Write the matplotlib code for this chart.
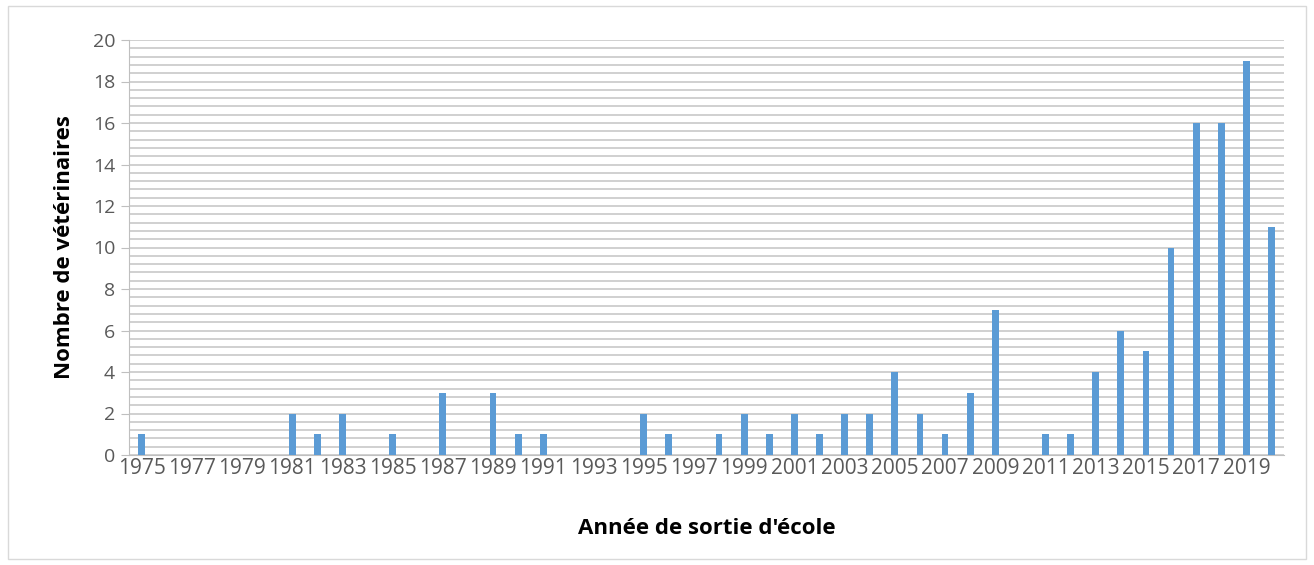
import matplotlib
matplotlib.use("Agg")
import matplotlib.pyplot as plt
import numpy as np

# données : nombre de vétérinaires par année de sortie d'école
annees = list(range(1975, 2021))
nombre = [1, 0, 0, 0, 0, 0, 2, 1, 2, 0, 1, 0, 3, 0, 3, 1, 1, 0, 0, 0,
          2, 1, 0, 1, 2, 1, 2, 1, 2, 2, 4, 2, 1, 3, 7, 0, 1, 1, 4, 6,
          5, 10, 16, 16, 19, 11]
etiquettes = [str(a) if (a - 1975) % 2 == 0 else "" for a in annees]

plt.rcParams['font.family'] = ['Open Sans', 'DejaVu Sans']

fig = plt.figure(figsize=(13.14, 5.65), dpi=100)
ax = fig.add_axes([129 / 1314, 1 - 455 / 565, (1284 - 129) / 1314, (455 - 40) / 565])

x = np.arange(len(annees))
ax.bar(x, nombre, width=0.27, color="#5B9BD5", zorder=3)

ax.set_xlim(-0.5, len(annees) - 0.5)
ax.set_ylim(0, 20)
ax.set_yticks(np.arange(0, 21, 2))
ax.set_yticks(np.arange(0, 20.01, 0.4), minor=True)
ax.grid(axis="y", which="both", color="#c8c8c8", linewidth=1.2, zorder=0)

ax.set_xticks(x)
ax.set_xticklabels(etiquettes)
ax.tick_params(axis="x", length=0, labelsize=15, colors="#595959", pad=2)
ax.tick_params(axis="y", which="major", length=6, color="#bfbfbf", labelsize=14, labelcolor="#595959", pad=4)
ax.tick_params(axis="y", which="minor", length=0)

for s in ["top", "right"]:
    ax.spines[s].set_visible(False)
ax.spines["left"].set_color("#bfbfbf")
ax.spines["bottom"].set_color("#bfbfbf")

ax.set_ylabel("Nombre de vétérinaires", fontsize=16, fontweight="bold", color="black", labelpad=13)
ax.set_xlabel("Année de sortie d'école", fontsize=16, fontweight="bold", color="black", labelpad=28)

# cadre léger autour de la figure
fig.patches.append(plt.Rectangle((0.006, 0.01), 0.988, 0.98, transform=fig.transFigure,
                                 fill=False, edgecolor="#d9d9d9", linewidth=1))

plt.savefig("out.png", dpi=100)
